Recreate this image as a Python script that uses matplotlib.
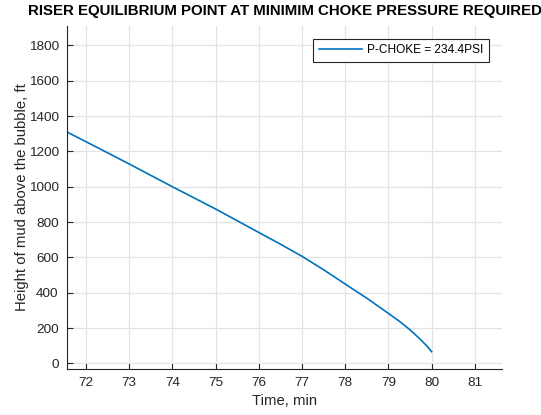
import matplotlib
matplotlib.use('Agg')
import matplotlib.pyplot as plt

time_min = [71.56, 72.0, 73.0, 74.0, 75.0, 76.0, 76.5, 77.0, 77.5, 78.0, 78.5,
            79.0, 79.25, 79.5, 79.73, 79.9, 80.0]
height_ft = [1310, 1255, 1129, 1000, 874, 741, 675, 606, 530, 449, 369,
             283, 239, 190, 138, 96, 66]
x_ticks = [72, 73, 74, 75, 76, 77, 78, 79, 80, 81]
y_ticks = [0, 200, 400, 600, 800, 1000, 1200, 1400, 1600, 1800]
legend_label = 'P-CHOKE = 234.4PSI'

plt.rcParams['font.family'] = ['Liberation Sans', 'DejaVu Sans']

fig = plt.figure(figsize=(5.41, 4.15), dpi=100, facecolor='white')
ax = fig.add_axes([0.1238, 0.1108, 0.8042, 0.8265])

ax.plot(time_min, height_ft, color='#0072BD', linewidth=1.2, label=legend_label)

ax.set_xlim(71.56, 81.63)
ax.set_ylim(-32, 1910)
ax.set_xticks(x_ticks)
ax.set_yticks(y_ticks)
ax.grid(True, color='#e3e3e3', linewidth=0.9)
ax.set_axisbelow(True)

for side in ['top', 'right']:
    ax.spines[side].set_visible(False)
for side in ['left', 'bottom']:
    ax.spines[side].set_color('#262626')
    ax.spines[side].set_linewidth(0.8)
ax.tick_params(direction='in', length=4, width=0.8, color='#262626',
               labelcolor='#262626', labelsize=9.7, pad=6)

ax.set_xlabel('Time, min', fontsize=10.7, color='#262626', labelpad=3)
ax.set_ylabel('Height of mud above the bubble, ft', fontsize=10.7, color='#262626', labelpad=0)
ax.set_title('RISER EQUILIBRIUM POINT AT MINIMIM CHOKE PRESSURE REQUIRED',
             fontsize=10.8, fontweight='bold', color='black', pad=8)

leg = ax.legend(loc='upper right', bbox_to_anchor=(0.970, 0.962), borderaxespad=0,
                fontsize=8.6, fancybox=False, framealpha=1, edgecolor='#262626',
                handlelength=3.6, handletextpad=0.45, borderpad=0.45)
leg.get_frame().set_linewidth(0.8)

plt.savefig('out.png', dpi=100, facecolor='white')
